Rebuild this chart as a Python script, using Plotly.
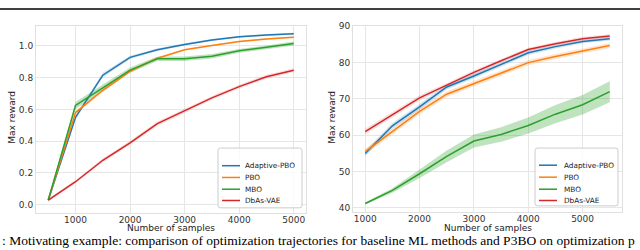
import plotly.graph_objects as go

W, H = 640, 250

# ---------------- data ----------------
series_names = ["Adaptive-PBO", "PBO", "MBO", "DbAs-VAE"]
colors = ["#1f77b4", "#ff7f0e", "#2ca02c", "#d62728"]
bands = ["rgba(31,119,180,0.2)", "rgba(255,127,14,0.2)", "rgba(44,160,44,0.3)", "rgba(214,39,40,0.15)"]

# left panel
left_x = [500, 1000, 1500, 2000, 2500, 3000, 3500, 4000, 4500, 5000]
left_adaptive = [0.03, 0.55, 0.815, 0.927, 0.975, 1.008, 1.036, 1.056, 1.068, 1.076]
left_pbo = [0.03, 0.58, 0.72, 0.84, 0.922, 0.975, 1.002, 1.026, 1.042, 1.054]
left_mbo = [0.03, 0.625, 0.735, 0.847, 0.918, 0.918, 0.934, 0.968, 0.99, 1.014]
left_dbas = [0.03, 0.145, 0.28, 0.39, 0.51, 0.592, 0.672, 0.743, 0.805, 0.846]
left_adaptive_sd = [0.01, 0.012, 0.015, 0.01, 0.008, 0.007, 0.006, 0.006, 0.006, 0.006]
left_pbo_sd = [0.01, 0.01, 0.01, 0.008, 0.006, 0.005, 0.005, 0.005, 0.005, 0.005]
left_mbo_sd = [0.01, 0.022, 0.022, 0.016, 0.014, 0.014, 0.014, 0.012, 0.012, 0.012]
left_dbas_sd = [0.01, 0.01, 0.012, 0.012, 0.014, 0.012, 0.012, 0.012, 0.012, 0.012]

# right panel
right_x = [1000, 1500, 2000, 2500, 3000, 3500, 4000, 4500, 5000, 5500]
right_adaptive = [55.0, 62.6, 67.8, 73.3, 76.3, 79.5, 82.7, 84.4, 85.8, 86.6]
right_pbo = [55.5, 61.0, 66.6, 71.3, 74.2, 77.2, 80.0, 81.7, 83.3, 84.7]
right_mbo = [41.2, 44.8, 49.4, 54.2, 58.4, 60.2, 62.7, 65.8, 68.4, 72.0]
right_dbas = [61.0, 65.7, 70.3, 73.8, 77.3, 80.5, 83.6, 85.2, 86.6, 87.3]
right_adaptive_sd = [0.8, 0.8, 0.8, 0.7, 0.6, 0.6, 0.6, 0.5, 0.5, 0.5]
right_pbo_sd = [0.8, 0.8, 0.8, 0.8, 0.8, 0.7, 0.7, 0.7, 0.7, 0.7]
right_mbo_sd = [0.3, 0.6, 1.2, 1.6, 1.8, 2.0, 2.2, 2.5, 2.7, 2.9]
right_dbas_sd = [0.8, 0.8, 0.7, 0.6, 0.6, 0.5, 0.5, 0.5, 0.5, 0.5]

left_xticks = [1000, 2000, 3000, 4000, 5000]
left_yticks = [0.0, 0.2, 0.4, 0.6, 0.8, 1.0]
right_xticks = [1000, 2000, 3000, 4000, 5000]
right_yticks = [40, 50, 60, 70, 80, 90]

x_title = "Number of samples"
y_title = "Max reward"
caption = ": Motivating example: comparison of optimization trajectories for baseline ML methods and P3BO on optimization p"

# ---------------- figure ----------------
fig = go.Figure()


def px_x(p):
    return p / W


def px_y(p):
    return 1 - p / H


left_means = [left_adaptive, left_pbo, left_mbo, left_dbas]
left_sds = [left_adaptive_sd, left_pbo_sd, left_mbo_sd, left_dbas_sd]
right_means = [right_adaptive, right_pbo, right_mbo, right_dbas]
right_sds = [right_adaptive_sd, right_pbo_sd, right_mbo_sd, right_dbas_sd]


def add_panel(xs, means, sds, xa, ya):
    for i, (m, s) in enumerate(zip(means, sds)):
        upper = [a + b for a, b in zip(m, s)]
        lower = [a - b for a, b in zip(m, s)]
        fig.add_trace(go.Scatter(x=xs, y=upper, mode="lines", line=dict(width=0),
                                 showlegend=False, hoverinfo="skip", xaxis=xa, yaxis=ya))
        fig.add_trace(go.Scatter(x=xs, y=lower, mode="lines", line=dict(width=0),
                                 fill="tonexty", fillcolor=bands[i],
                                 showlegend=False, hoverinfo="skip", xaxis=xa, yaxis=ya))
    for i, m in enumerate(means):
        fig.add_trace(go.Scatter(x=xs, y=m, mode="lines", name=series_names[i],
                                 line=dict(color=colors[i], width=1.5),
                                 showlegend=False, xaxis=xa, yaxis=ya))


add_panel(left_x, left_means, left_sds, "x", "y")
add_panel(right_x, right_means, right_sds, "x2", "y2")

axis_common = dict(showgrid=True, gridcolor="#e6e6e6", gridwidth=1, zeroline=False,
                   showline=True, linecolor="#e0e0e0", linewidth=1, mirror=True,
                   ticks="", tickfont=dict(family="DejaVu Sans", size=9, color="#333333"))

fig.update_layout(
    width=W, height=H,
    margin=dict(l=0, r=0, t=0, b=0),
    paper_bgcolor="white", plot_bgcolor="white",
    showlegend=False,
    xaxis=dict(domain=[px_x(36), px_x(306)], range=[275, 5225], tickvals=left_xticks,
               anchor="y", ticklabelstandoff=-2, **axis_common),
    yaxis=dict(domain=[px_y(213), px_y(22)], range=[-0.05, 1.127], tickvals=left_yticks,
               tickformat=".1f", anchor="x", **axis_common),
    xaxis2=dict(domain=[px_x(353), px_x(622)], range=[775, 5725], tickvals=right_xticks,
                anchor="y2", ticklabelstandoff=-2, **axis_common),
    yaxis2=dict(domain=[px_y(212.5), px_y(22)], range=[38.8, 90.2], tickvals=right_yticks,
                anchor="x2", **axis_common),
)

ann_font = dict(family="DejaVu Sans", size=9, color="#222222")
annotations = [
    dict(text=x_title, x=px_x(171), y=px_y(229), xref="paper", yref="paper",
         showarrow=False, font=ann_font, xanchor="center", yanchor="middle"),
    dict(text=x_title, x=px_x(488), y=px_y(229), xref="paper", yref="paper",
         showarrow=False, font=ann_font, xanchor="center", yanchor="middle"),
    dict(text=y_title, x=px_x(12), y=px_y(116), xref="paper", yref="paper", textangle=-90,
         showarrow=False, font=ann_font, xanchor="center", yanchor="middle"),
    dict(text=y_title, x=px_x(332), y=px_y(116), xref="paper", yref="paper", textangle=-90,
         showarrow=False, font=ann_font, xanchor="center", yanchor="middle"),
    dict(text=caption, x=px_x(0), y=px_y(241.5), xref="paper", yref="paper",
         showarrow=False, font=dict(family="Liberation Serif", size=13.5, color="black"),
         xanchor="left", yanchor="middle"),
]


def rounded_rect_path(x0, y0, x1, y1, r):
    def P(x, y):
        return f"{px_x(x):.5f},{px_y(y):.5f}"
    return (f"M {P(x0 + r, y0)} L {P(x1 - r, y0)} Q {P(x1, y0)} {P(x1, y0 + r)} "
            f"L {P(x1, y1 - r)} Q {P(x1, y1)} {P(x1 - r, y1)} "
            f"L {P(x0 + r, y1)} Q {P(x0, y1)} {P(x0, y1 - r)} "
            f"L {P(x0, y0 + r)} Q {P(x0, y0)} {P(x0 + r, y0)} Z")


# manual legends (box, line samples, labels) in pixel positions
legend_specs = [
    dict(box=(218, 147, 302, 208), line=(222, 240), text_x=243, rows=[165, 177, 189, 200.5]),
    dict(box=(535, 147, 618, 206), line=(539, 557), text_x=562, rows=[164.5, 176.7, 189, 200.5]),
]
for spec in legend_specs:
    bx0, by0, bx1, by1 = spec["box"]
    fig.add_shape(type="path", xref="paper", yref="paper",
                  path=rounded_rect_path(bx0, by0, bx1, by1, 2.5),
                  fillcolor="rgba(255,255,255,0.8)", line=dict(color="#cccccc", width=1))
    lx0, lx1 = spec["line"]
    for i, ry in enumerate(spec["rows"]):
        fig.add_shape(type="line", xref="paper", yref="paper",
                      x0=px_x(lx0), x1=px_x(lx1), y0=px_y(ry), y1=px_y(ry),
                      line=dict(color=colors[i], width=1.5))
        annotations.append(dict(text=series_names[i], x=px_x(spec["text_x"]), y=px_y(ry),
                                xref="paper", yref="paper", showarrow=False,
                                xanchor="left", yanchor="middle",
                                font=dict(family="DejaVu Sans", size=7.3, color="#222222")))

fig.update_layout(annotations=annotations)

fig.add_shape(type="line", xref="paper", yref="paper", x0=0, x1=1, y0=px_y(5), y1=px_y(5),
              line=dict(color="black", width=1.5))

fig.write_html("out.html", config={"displayModeBar": False},
               post_script="document.body.style.margin='0';")
